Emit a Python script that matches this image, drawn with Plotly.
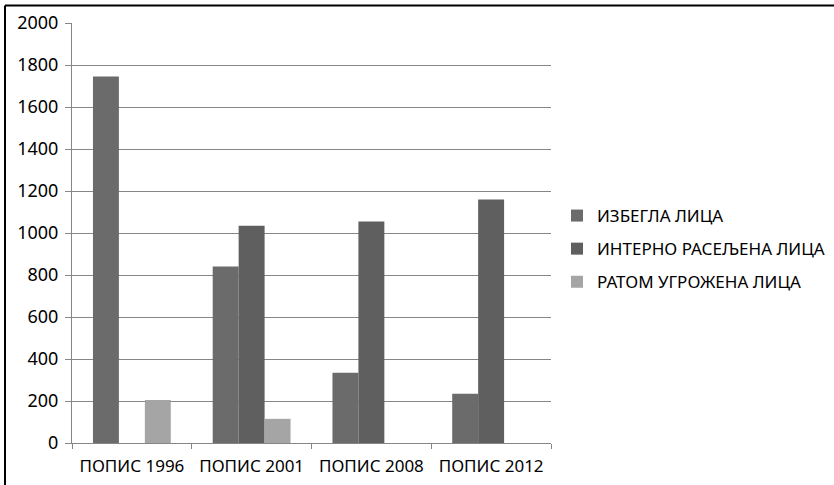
import plotly.graph_objects as go

categories = ["ПОПИС 1996", "ПОПИС 2001", "ПОПИС 2008", "ПОПИС 2012"]
series_names = ["ИЗБЕГЛА ЛИЦА", "ИНТЕРНО РАСЕЉЕНА ЛИЦА", "РАТОМ УГРОЖЕНА ЛИЦА"]
izbegla = [1745, 840, 335, 235]
interno = [0, 1035, 1055, 1160]
ratom = [205, 115, 0, 0]
y_ticks = [0, 200, 400, 600, 800, 1000, 1200, 1400, 1600, 1800, 2000]

colors = ["#6b6b6b", "#5f5f5f", "#a5a5a5"]
font_family = "Noto Sans"
fsize = 17

W, H = 834, 485
L, R, T, B = 72, 283, 23, 42
pw, ph = W - L - R, H - T - B

fig = go.Figure()
for name, vals, col in zip(series_names, [izbegla, interno, ratom], colors):
    fig.add_trace(go.Bar(
        x=categories, y=vals, name=name, legendgroup=name,
        marker=dict(color=col, line=dict(width=0)),
    ))

# frame lines along the top and left edges of the page
bx = (5 - L) / pw
by = 1 + (T - 5.5) / ph
fig.add_shape(type="line", xref="paper", yref="paper", x0=bx, x1=(W + 5 - L) / pw,
              y0=by, y1=by, line=dict(color="black", width=2))
fig.add_shape(type="line", xref="paper", yref="paper", x0=bx, x1=bx,
              y0=by, y1=-(B + 5) / ph, line=dict(color="black", width=2))

fig.update_layout(
    width=W, height=H,
    margin=dict(l=L, r=R, t=T, b=B, autoexpand=False),
    paper_bgcolor="white", plot_bgcolor="white",
    barmode="group", bargap=0.35, bargroupgap=0,
    font=dict(family=font_family, size=fsize, color="black"),
    showlegend=True,
    legend=dict(
        x=(557 - L) / pw, y=1 - (198 - T) / ph, xanchor="left", yanchor="top",
        traceorder="grouped", tracegroupgap=8,
        font=dict(family=font_family, size=fsize, color="black"),
        bgcolor="rgba(0,0,0,0)",
    ),
    xaxis=dict(
        type="category", showline=True, linecolor="#868686", linewidth=1,
        ticks="outside", tickson="boundaries", ticklen=5, tickcolor="#868686",
        showgrid=False, tickfont=dict(size=fsize), ticklabelstandoff=8,
    ),
    yaxis=dict(
        range=[0, 2000], tickvals=y_ticks, showline=True, linecolor="#868686",
        linewidth=1, ticks="outside", ticklen=6, tickcolor="#868686",
        showgrid=True, gridcolor="#868686", gridwidth=1, zeroline=False,
        ticklabelstandoff=3, tickfont=dict(size=18),
    ),
)

fig.write_html("out.html")
